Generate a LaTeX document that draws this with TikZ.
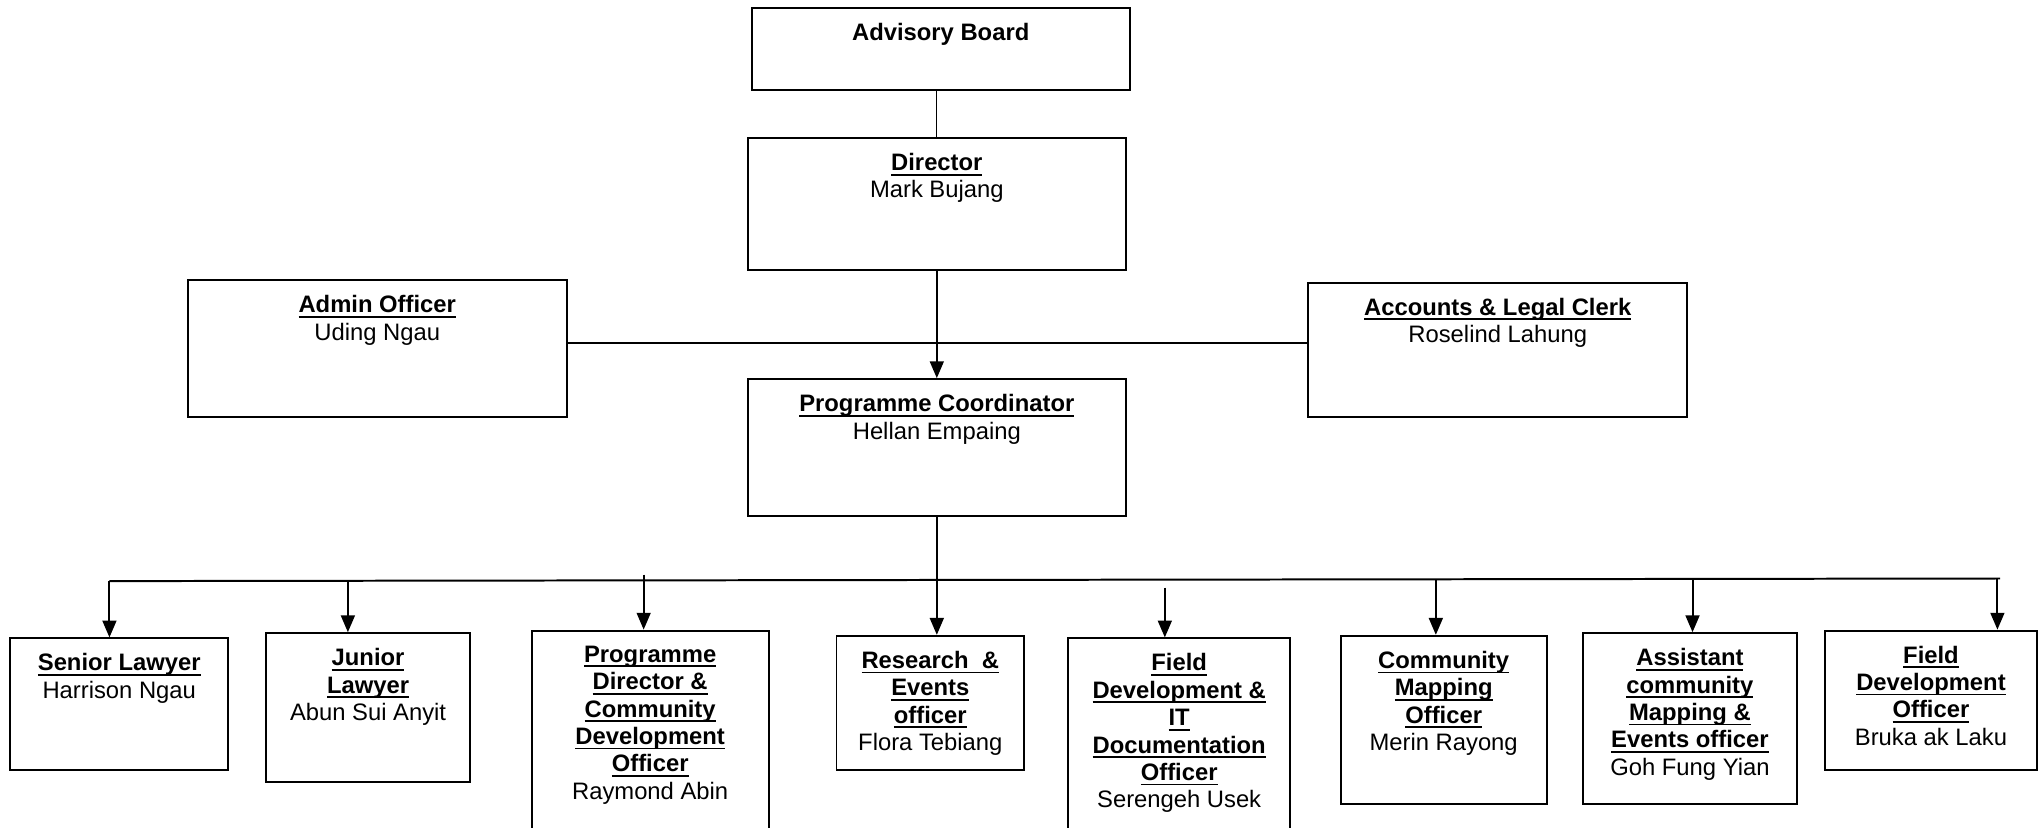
\documentclass[tikz,border=0pt]{standalone}
\usepackage{fontspec}
\setmainfont{Liberation Sans}
\usetikzlibrary{arrows.meta}

% titulo subrayado y en negrita
\newsavebox{\ttlbox}
\newcommand{\ttl}[1]{\sbox{\ttlbox}{\textbf{#1}}%
  \rlap{\rule[-2.5pt]{\wd\ttlbox}{0.9pt}}\usebox{\ttlbox}}

\tikzset{
  box/.style 2 args={draw, line width=1pt, inner sep=0pt,
    minimum width=#1*0.657pt, minimum height=#2*0.657pt},
  txt/.style={anchor=north, align=center, inner sep=0pt, yshift=-8pt},
  link/.style={line width=1pt},
  arr/.style={line width=1pt, -{Triangle[length=8.5pt, width=7pt]}}
}

\begin{document}
\begin{tikzpicture}[x=0.657pt, y=-0.657pt, font=\fontsize{12pt}{13.8pt}\selectfont]
    \useasboundingbox (0,0) rectangle (1568,635);

    % --- DIRECCION ---
    \node[box={290}{63}, label={[txt]north:{\textbf{Advisory Board}}}] (adv) at (722,37.5) {};
    \node[box={290}{101}, label={[txt]north:{\ttl{Director}\\Mark Bujang}}] (dir) at (719,156.5) {};
    \node[box={291}{105}, label={[txt]north:{\ttl{Admin Officer}\\Uding Ngau}}] (adm) at (289.5,267.5) {};
    \node[box={291}{103}, label={[txt]north:{\ttl{Accounts \& Legal Clerk}\\Roselind Lahung}}] (acc) at (1149.5,268.5) {};
    \node[box={290}{105}, label={[txt]north:{\ttl{Programme Coordinator}\\Hellan Empaing}}] (pc) at (719,343.5) {};

    % --- PERSONAL ---
    \node[box={167}{101}, label={[txt]north:{\ttl{Senior Lawyer}\\Harrison Ngau}}] (sl) at (91.5,540.5) {};
    \node[box={157}{114}, label={[txt]north:{\ttl{Junior}\\\ttl{Lawyer}\\Abun Sui Anyit}}] (jl) at (282.5,543) {};
    \node[box={182}{161}, label={[txt]north:{\ttl{Programme}\\\ttl{Director \&}\\\ttl{Community}\\\ttl{Development}\\\ttl{Officer}\\Raymond Abin}}] (pd) at (499,564.5) {};
    \node[box={144}{103}, label={[txt]north:{\ttl{Research\ \ \&}\\\ttl{Events}\\\ttl{officer}\\Flora Tebiang}}] (rs) at (714,539.5) {};
    \node[box={170}{155}, label={[txt]north:{\ttl{Field}\\\ttl{Development \&}\\\ttl{IT}\\\ttl{Documentation}\\\ttl{Officer}\\Serengeh Usek}}] (fd) at (905,567.5) {};
    \node[box={158}{129}, label={[txt]north:{\ttl{Community}\\\ttl{Mapping}\\\ttl{Officer}\\Merin Rayong}}] (cm) at (1108,552.5) {};
    \node[box={164}{131}, label={[txt]north:{\ttl{Assistant}\\\ttl{community}\\\ttl{Mapping \&}\\\ttl{Events officer}\\Goh Fung Yian}}] (ac) at (1297,551.5) {};
    \node[box={162}{107}, label={[txt]north:{\ttl{Field}\\\ttl{Development}\\\ttl{Officer}\\Bruka ak Laku}}] (fo) at (1482,537.5) {};

    % --- CONEXIONES ---
    \draw[line width=0.6pt] (dir.north |- adv.south) -- (dir.north);
    \draw[arr] (dir.south) -- (pc.north);
    \coordinate (h) at (719,263);
    \draw[link] (h -| adm.east) -- (h -| acc.west);

    % barra horizontal
    \coordinate (busL) at (84,446);
    \coordinate (busR) at (1535,444);
    \draw[link] (busL) -- (busR);
    \draw[arr] (pc.south) -- (pc.south |- rs.north);
    \foreach \n/\x/\y in {sl/84/446, jl/267/446, pd/494/441, fd/894/451,
                          cm/1102/445, ac/1299/445, fo/1533/444} {
        \coordinate (t\n) at (\x,\y);
        \draw[arr] (t\n) -- (t\n |- \n.north);
    }

\end{tikzpicture}
\end{document}
